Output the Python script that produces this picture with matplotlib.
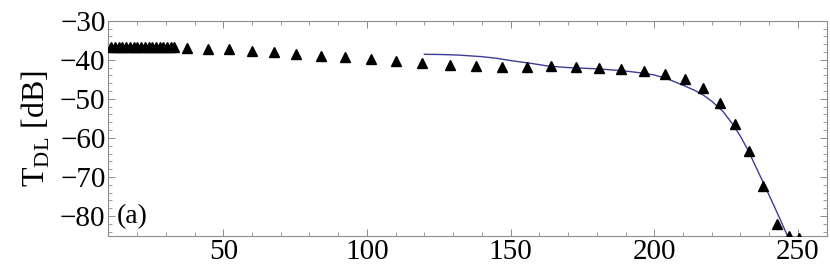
import matplotlib
matplotlib.use("Agg")
import matplotlib.pyplot as plt
from matplotlib.ticker import MultipleLocator

plt.rcParams["font.family"] = ["Liberation Serif", "DejaVu Serif"]
plt.rcParams["mathtext.fontset"] = "custom"
plt.rcParams["mathtext.rm"] = "Liberation Serif"

# measured points (triangles)
x_meas = [11, 12.3, 13.6, 14.9, 16.2, 17.5, 18.8, 20.1, 21.4, 22.7, 24.0,
          25.3, 26.6, 27.9, 29.2, 30.5, 31.8, 33.0,
          37.4, 44.7, 52.0, 60.0, 67.7, 75.3, 84.0, 92.3, 101.4, 110.1,
          119.1, 128.9, 137.9, 147.0, 155.7, 164.0, 172.7, 180.7, 188.3,
          196.3, 203.7, 210.6, 216.9, 222.8, 228.0, 232.9, 237.7, 242.6,
          246.8, 250.3]
y_meas = [-36.6] * 18 + [
    -37.0, -37.2, -37.3, -37.7, -38.1, -38.6, -39.0, -39.4, -39.8, -40.3,
    -40.7, -41.3, -41.6, -41.9, -41.8, -41.7, -41.8, -42.0, -42.4,
    -42.8, -43.6, -45.0, -47.3, -51.0, -56.4, -63.4, -72.2, -81.9,
    -85.2, -85.6]

# model curve
x_model = [120, 126, 132, 136, 140, 145, 150, 157, 163, 170, 180, 189,
           196, 200, 204, 209, 214, 217, 220, 224, 227.4, 230, 232.6,
           236.7, 240, 243, 246.5]
y_model = [-38.6, -38.65, -38.8, -39.0, -39.2, -39.6, -40.2, -40.9, -41.6,
           -42.0, -42.3, -42.8, -43.4, -43.9, -44.7, -46.2, -47.8, -49.0,
           -50.6, -53.3, -56.6, -59.6, -63.1, -69.5, -74.7, -79.5, -85.3]

fig = plt.figure(figsize=(8.3, 2.78), dpi=100)
ax = fig.add_axes([0.1305, 0.151, 0.8655, 0.7745])

ax.plot(x_model, y_model, color="#3d3d99", lw=1.0, zorder=2)
ax.plot(x_meas, y_meas, ls="none", marker="^", ms=7, color="black",
        zorder=3, clip_on=True)

ax.set_xlim(10, 260)
ax.set_ylim(-85.1, -30)
ax.xaxis.set_major_locator(MultipleLocator(50))
ax.xaxis.set_minor_locator(MultipleLocator(10))
ax.yaxis.set_major_locator(MultipleLocator(10))
ax.yaxis.set_minor_locator(MultipleLocator(2))

for sp in ax.spines.values():
    sp.set_color("#8c8c8c")
    sp.set_linewidth(0.8)
ax.tick_params(which="both", direction="in", top=True, right=True,
               colors="#8c8c8c", labelcolor="black", labelsize=21)
ax.tick_params(which="major", length=5, width=0.7, pad=2)
ax.tick_params(which="minor", length=3, width=0.6)

ax.set_ylabel(r"$\mathrm{T}_{\mathrm{DL}}$ [dB]", fontsize=23, labelpad=6)
ax.text(0.012, 0.09, "(a)", transform=ax.transAxes, fontsize=20,
        ha="left", va="center")

fig.savefig("out.png", dpi=100)
